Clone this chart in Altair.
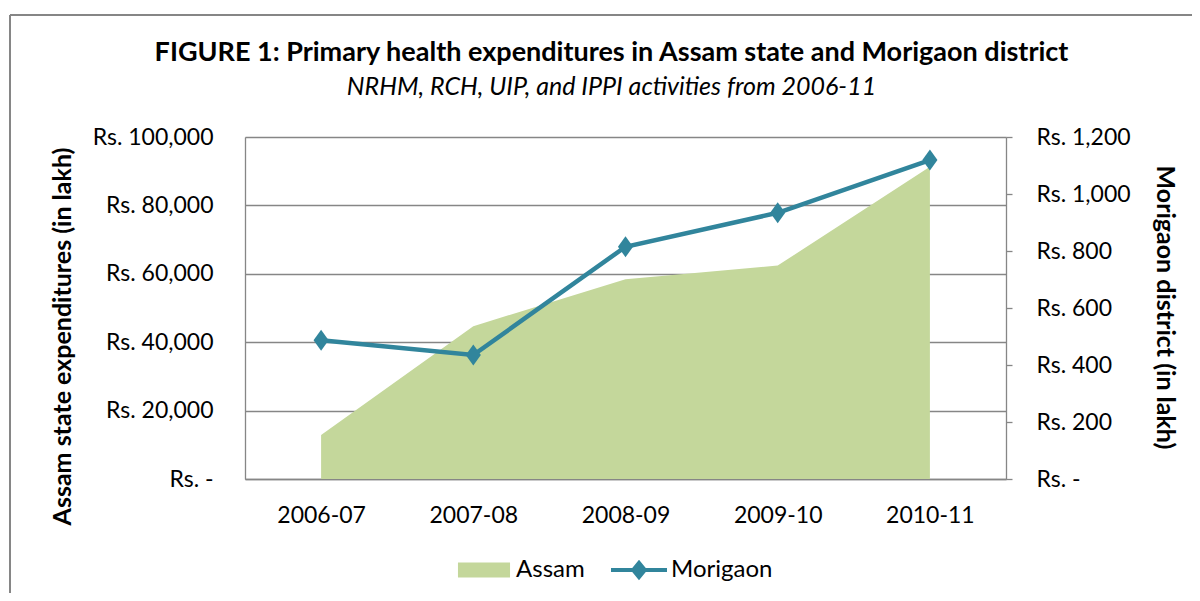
import altair as alt
import pandas as pd

years = ["2006-07", "2007-08", "2008-09", "2009-10", "2010-11"]
assam = [12900, 44700, 58400, 62400, 91300]
morigaon = [487, 435, 815, 934, 1119]
series = ["Assam", "Morigaon"]
left_ticks = [0, 20000, 40000, 60000, 80000, 100000]
right_ticks = [0, 200, 400, 600, 800, 1000, 1200]

GREEN = "#C4D79B"
TEAL = "#31859C"
GRID = "#868686"
FONT = "Lato"

df = pd.DataFrame({"year": years, "assam": assam, "morigaon": morigaon})
legend_df = pd.DataFrame({"series": series})
one = pd.DataFrame({"a": [0]})

x_enc = alt.X(
    "year:N", sort=years,
    scale=alt.Scale(type="point", padding=0.5),
    axis=alt.Axis(title=None, labelAngle=0, ticks=False, tickSize=0, labelPadding=25,
                  domainColor=GRID, domainWidth=1.3, grid=False, labelFontSize=23,
                  labelColor="#000", labelFont=FONT),
)

left_label = "datum.value == 0 ? 'Rs. -\u00a0\u00a0\u00a0' : 'Rs. ' + format(datum.value, ',')"
right_label = "datum.value == 0 ? 'Rs. -' : 'Rs. ' + format(datum.value, ',')"

area = alt.Chart(df).mark_area(color=GREEN, opacity=1).encode(
    x=x_enc,
    y=alt.Y("assam:Q", scale=alt.Scale(domain=[0, 100000]),
            axis=alt.Axis(orient="left", values=left_ticks, labelExpr=left_label,
                          title="Assam state expenditures (in lakh)",
                          grid=True, gridColor=GRID, gridWidth=1.3,
                          domainColor=GRID, domainWidth=1.3, ticks=False, tickSize=0,
                          labelPadding=32, labelFontSize=23, labelColor="#000", labelFont=FONT,
                          titleFontSize=25, titleFont=FONT, titleFontWeight="bold", titleColor="#000",
                          titleAngle=270, titleX=-175, titleY=199, titleAlign="center",
                          titleBaseline="alphabetic")),
)

y_right = alt.Y("morigaon:Q", scale=alt.Scale(domain=[0, 1200]),
                axis=alt.Axis(orient="right", values=right_ticks, labelExpr=right_label,
                              title="Morigaon district (in lakh)", grid=False,
                              domainColor=GRID, domainWidth=1.3, tickColor=GRID, tickWidth=1.3,
                              tickSize=6, labelPadding=24, labelFontSize=23, labelColor="#000",
                              labelFont=FONT, titleFontSize=25, titleFont=FONT,
                              titleFontWeight="bold", titleColor="#000", titleAngle=90,
                              titleX=150, titleY=170, titleAlign="center",
                              titleBaseline="alphabetic"))

line = alt.Chart(df).mark_line(color=TEAL, strokeWidth=4.5).encode(x=x_enc, y=y_right)
points = alt.Chart(df).mark_point(
    filled=True, opacity=1, color=TEAL, size=441,
    shape="M0,-1 L0.72,0 L0,1 L-0.72,0 Z",
).encode(x=x_enc, y=y_right)

rect_path = "M-0.93,-0.27 L0.93,-0.27 L0.93,0.27 L-0.93,0.27 Z"
linediamond_path = ("M-1,-0.07 L1,-0.07 L1,0.07 L-1,0.07 Z "
                    "M0,-0.37 L0.3,0 L0,0.37 L-0.3,0 Z")

leg = alt.Legend(title=None, orient="none", direction="horizontal",
                 legendX=211, legendY=405, symbolSize=3136,
                 symbolStrokeWidth=0, symbolOpacity=1, labelFontSize=24,
                 labelFont=FONT, labelColor="#000", labelOffset=4,
                 columnPadding=26)

legend_layer = alt.Chart(legend_df).mark_point(filled=True, opacity=0, size=3136).encode(
    x=alt.value(0), y=alt.value(0),
    color=alt.Color("series:N", scale=alt.Scale(domain=series, range=[GREEN, TEAL]), legend=leg),
    shape=alt.Shape("series:N", scale=alt.Scale(domain=series, range=[rect_path, linediamond_path]),
                    legend=leg),
)

border_v = alt.Chart(one).mark_rule(color=GRID, strokeWidth=2).encode(
    x=alt.value(-235), y=alt.value(-122), y2=alt.value(470))
border_h = alt.Chart(one).mark_rule(color=GRID, strokeWidth=2).encode(
    x=alt.value(-235), x2=alt.value(960), y=alt.value(-122))

chart = alt.layer(
    area, alt.layer(line, points), legend_layer, border_v, border_h
).resolve_scale(y="independent").properties(
    width=761, height=342,
    autosize=alt.AutoSizeParams(type="none"),
    padding={"left": 237, "top": 129, "right": 186, "bottom": 114},
    title=alt.TitleParams(
        text="FIGURE 1: Primary health expenditures in Assam state and Morigaon district",
        subtitle="NRHM, RCH, UIP, and IPPI activities from 2006-11",
        anchor="middle", dx=-14, offset=-87, font=FONT, fontSize=27, fontWeight="bold",
        color="#000", subtitleFont=FONT, subtitleFontSize=25, subtitleFontStyle="italic",
        subtitleColor="#000", subtitlePadding=8,
    ),
).configure_view(stroke=None).configure(background="white")

chart.save("out.html", embed_options={"renderer": "svg", "actions": False})
